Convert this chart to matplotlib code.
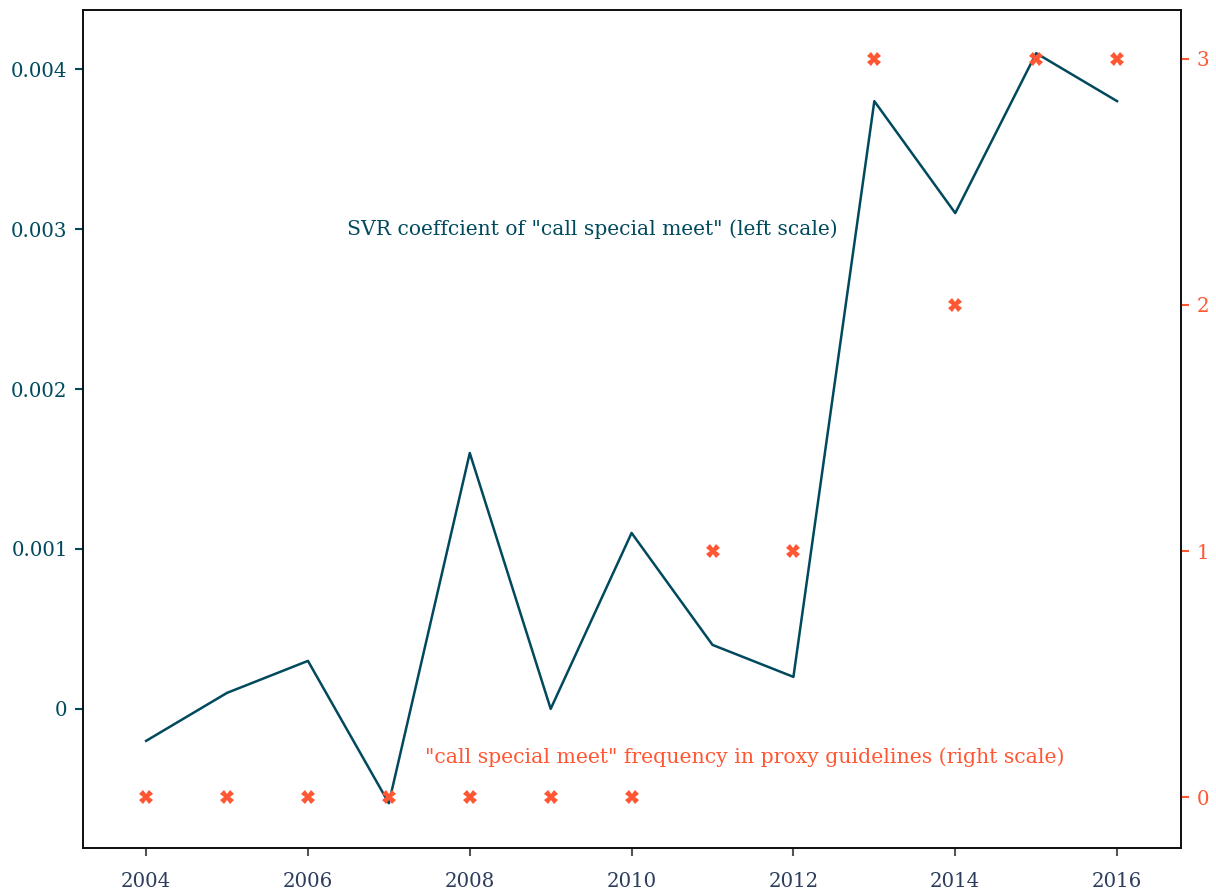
import matplotlib
matplotlib.use("Agg")
import matplotlib.pyplot as plt

years = [2004, 2005, 2006, 2007, 2008, 2009, 2010, 2011, 2012, 2013, 2014, 2015, 2016]
svr_coef = [-0.0002, 0.0001, 0.0003, -0.00059, 0.0016, 0.0, 0.0011, 0.0004, 0.0002, 0.0038, 0.0031, 0.0041, 0.0038]
frequency = [0, 0, 0, 0, 0, 0, 0, 1, 1, 3, 2, 3, 3]
left_ticks = [0, 0.001, 0.002, 0.003, 0.004]
left_labels = ["0", "0.001", "0.002", "0.003", "0.004"]
right_ticks = [0, 1, 2, 3]
x_ticks = [2004, 2006, 2008, 2010, 2012, 2014, 2016]

teal = "#014a5e"
orange = "#ff5733"
navy = "#2c3d5e"

plt.rcParams['font.family'] = ['DejaVu Serif']

fig = plt.figure(figsize=(12.16, 8.92), dpi=100)
ax = fig.add_axes([83/1216, 1 - 848/892, (1181-83)/1216, (848-10)/892])
ax2 = ax.twinx()

ax.plot(years, svr_coef, color=teal, lw=1.8)
ax2.plot(years, frequency, linestyle='none', marker='X', color=orange, ms=10, markeredgewidth=0)

ax.set_xlim(2003.22, 2016.79)
ax.set_ylim(-0.00087, 0.00437)
ax2.set_ylim(-0.207, 3.199)

ax.set_xticks(x_ticks)
ax.set_xticklabels([str(x) for x in x_ticks])
ax.set_yticks(left_ticks)
ax.set_yticklabels(left_labels)
ax2.set_yticks(right_ticks)

ax.tick_params(axis='x', colors='#555555', labelcolor=navy, labelsize=14.2, length=6, width=1.5, pad=11)
ax.tick_params(axis='y', colors=teal, labelcolor=teal, labelsize=14.2, length=6, width=1.5, pad=5)
ax2.tick_params(axis='y', colors=orange, labelcolor=orange, labelsize=14.2, length=6, width=1.5, pad=5)

for a in (ax, ax2):
    for s in a.spines.values():
        s.set_color('#111111')
        s.set_linewidth(1.3)

ax.text(2006.48, 0.003, 'SVR coeffcient of "call special meet" (left scale)',
        color=teal, fontsize=14.6, ha='left', va='center')
ax.text(2007.45, -0.000305, '"call special meet" frequency in proxy guidelines (right scale)',
        color=orange, fontsize=14.7, ha='left', va='center')

fig.savefig("out.png", dpi=100)
